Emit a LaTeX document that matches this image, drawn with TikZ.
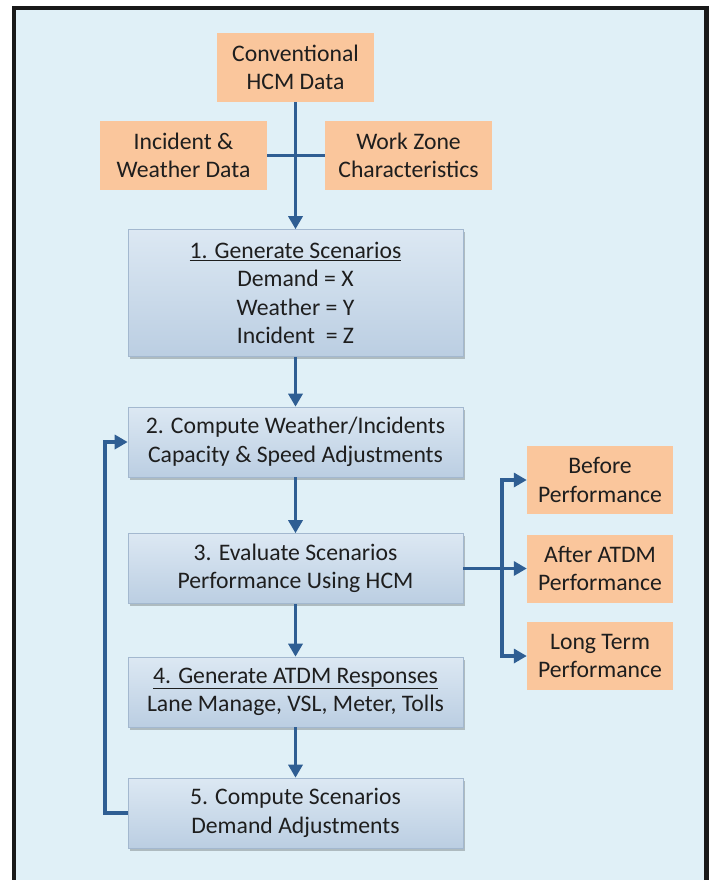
\documentclass[tikz,border=0pt]{standalone}
\usepackage{fontspec}
\setmainfont{Carlito}
\usetikzlibrary{arrows.meta,shadows}
\definecolor{bgblue}{HTML}{E0F0F7}
\definecolor{orangebox}{HTML}{FAC69C}
\definecolor{arrowblue}{HTML}{2F5E93}
\definecolor{boxtop}{HTML}{DCE8F3}
\definecolor{boxbot}{HTML}{BBCEE2}
\definecolor{boxedge}{HTML}{A3B8CF}
\definecolor{txt}{HTML}{1E1E1E}
\begin{document}
\begin{tikzpicture}[x=1pt,y=-1pt,
  every node/.style={font=\fontsize{23.7}{28.5}\selectfont, text=txt, align=center, inner sep=0pt},
  databox/.style={fill=orangebox, minimum height=68pt},
  stepbox/.style={top color=boxtop, bottom color=boxbot, draw=boxedge, line width=0.6pt,
     minimum width=335pt, drop shadow={shadow xshift=1.5pt, shadow yshift=-2.5pt, fill=black, opacity=0.22}},
  conn/.style={draw=arrowblue, line width=3.6pt},
  arr/.style={conn, -{Triangle[length=13pt,width=14pt]}}
]
\useasboundingbox (0,0) rectangle (709,880);
\fill[white] (0,0) rectangle (709,880);
\fill[bgblue] (14,8) rectangle (709,880);
\draw[black!90, line width=4pt] (14,880) -- (14,8) -- (709,8);
\draw[black!90, line width=5pt] (706.5,6) -- (706.5,880);

% data boxes
\node[databox, minimum width=157pt, minimum height=69pt] (conv) at (295.5,67.5) {Conventional\\HCM Data};
\node[databox, minimum width=167pt] (inc) at (183.5,155.5) {Incident \&\\Weather Data};
\node[databox, minimum width=167pt] (wz) at (408.5,155.5) {Work Zone\\Characteristics};

% step boxes
\node[stepbox, minimum height=127pt] (s1) at (295.5,293) {\underline{1. Generate Scenarios}\\Demand = X\\Weather = Y\\Incident \ = Z};
\node[stepbox, minimum height=70pt] (s2) at (295.5,442) {2. Compute Weather/Incidents\\Capacity \& Speed Adjustments};
\node[stepbox, minimum height=70pt] (s3) at (295.5,568.5) {3. Evaluate Scenarios\\Performance Using HCM};
\node[stepbox, minimum height=70pt] (s4) at (295.5,692) {\underline{4. Generate ATDM Responses}\\Lane Manage, VSL, Meter, Tolls};
\node[stepbox, minimum height=70pt] (s5) at (295.5,813) {5. Compute Scenarios\\Demand Adjustments};

% output boxes
\node[databox, minimum width=146pt] (before) at (600,480) {Before\\Performance};
\node[databox, minimum width=146pt] (after) at (600,568.5) {After ATDM\\Performance};
\node[databox, minimum width=146pt] (long) at (600,656) {Long Term\\Performance};

% connectors
\draw[conn] (inc.east) -- (wz.west);
\draw[arr] (conv.south) -- (s1.north);
\draw[arr] (s1.south) -- (s2.north);
\draw[arr] (s2.south) -- (s3.north);
\draw[arr] (s3.south) -- (s4.north);
\draw[arr] (s4.south) -- (s5.north);
\coordinate (loopb) at (105,813);
\coordinate (loopt) at (105,442);
\draw[arr, line join=miter] (s5.west) -- (loopb) -- (loopt) -- (s2.west);
\coordinate (br) at (502,568.5);
\draw[arr] (s3.east) -- (after.west);
\draw[arr, line join=miter] (br) |- (before.west);
\draw[arr, line join=miter] (br) |- (long.west);
\end{tikzpicture}
\end{document}
